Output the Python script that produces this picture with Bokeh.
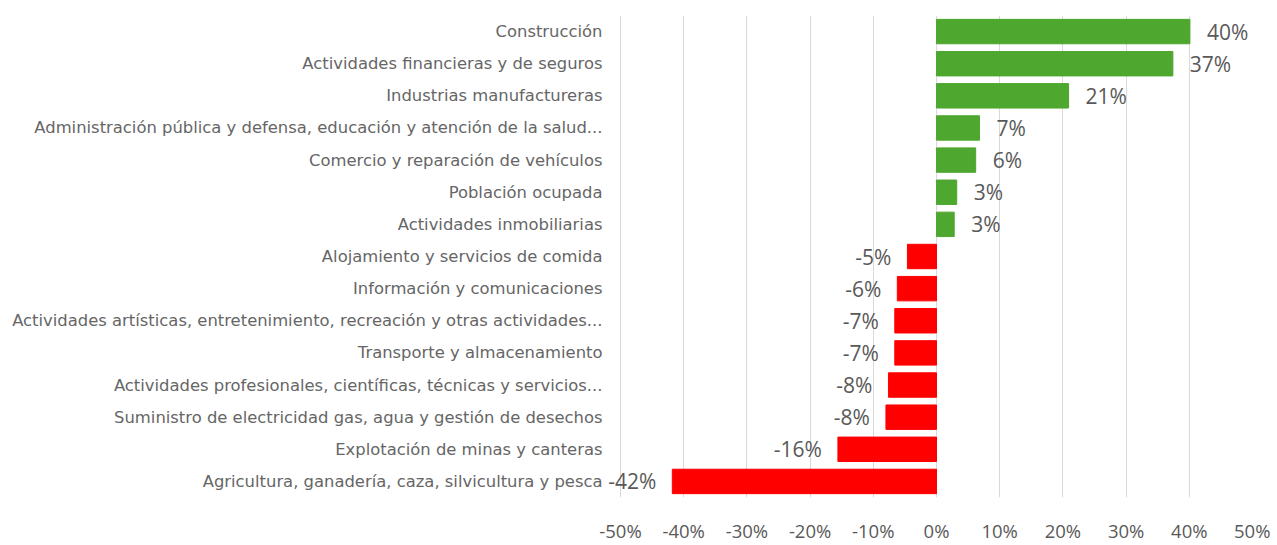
from bokeh.plotting import figure
from bokeh.models import ColumnDataSource, LabelSet, Range1d, FactorRange, FixedTicker, PrintfTickFormatter
from bokeh.core.properties import value
from bokeh.embed import file_html
from bokeh.resources import INLINE

categories = [
    "Construcción",
    "Actividades financieras y de seguros",
    "Industrias manufactureras",
    "Administración pública y defensa, educación y atención de la salud...",
    "Comercio y reparación de vehículos",
    "Población ocupada",
    "Actividades inmobiliarias",
    "Alojamiento y servicios de comida",
    "Información y comunicaciones",
    "Actividades artísticas, entretenimiento, recreación y otras actividades...",
    "Transporte y almacenamiento",
    "Actividades profesionales, científicas, técnicas y servicios...",
    "Suministro de electricidad gas, agua y gestión de desechos",
    "Explotación de minas y canteras",
    "Agricultura, ganadería, caza, silvicultura y pesca",
]
values = [40.1, 37.4, 20.9, 6.8, 6.2, 3.2, 2.8, -4.6, -6.2, -6.6, -6.6, -7.6, -8.0, -15.6, -41.8]
tick_values = [-50, -40, -30, -20, -10, 0, 10, 20, 30, 40, 50]

GREEN = "#4EA72E"
RED = "#FF0000"
TEXT = "#595959"
CAT_TEXT = "#666666"
FONT = value("Open Sans")
CAT_FONT = value("DejaVu Sans")

# layout: the -50% gridline sits 620px from the left edge, +50% at 1252px
W, H = 1270, 545
LEFT_PX, RIGHT_PX = 620, 1252
px_per_unit = (RIGHT_PX - LEFT_PX) / (tick_values[-1] - tick_values[0])
x_start = tick_values[0] - LEFT_PX / px_per_unit

colors = [GREEN if v >= 0 else RED for v in values]
labels = [f"{int(round(v))}%" for v in values]

src = ColumnDataSource(dict(cat=categories, val=values, color=colors))
pos = ColumnDataSource(dict(cat=[c for c, v in zip(categories, values) if v >= 0],
                            val=[v for v in values if v >= 0],
                            lab=[l for l, v in zip(labels, values) if v >= 0]))
neg = ColumnDataSource(dict(cat=[c for c, v in zip(categories, values) if v < 0],
                            val=[v for v in values if v < 0],
                            lab=[l for l, v in zip(labels, values) if v < 0]))
cats = ColumnDataSource(dict(cat=categories, x=[tick_values[0]] * len(categories)))

p = figure(width=W, height=H,
           y_range=FactorRange(*reversed(categories)),
           x_range=Range1d(x_start, tick_values[-1]),
           output_backend="svg", toolbar_location=None,
           min_border_left=0, min_border_right=18, min_border_top=15, min_border_bottom=46)

p.hbar(y="cat", left=0, right="val", height=0.76, color="color", source=src)

p.add_layout(LabelSet(x="val", y="cat", text="lab", source=pos, x_offset=17,
                      text_align="left", text_baseline="middle",
                      text_font_size="21px", text_color=TEXT, text_font=FONT))
p.add_layout(LabelSet(x="val", y="cat", text="lab", source=neg, x_offset=-16,
                      text_align="right", text_baseline="middle",
                      text_font_size="21px", text_color=TEXT, text_font=FONT))
p.add_layout(LabelSet(x="x", y="cat", text="cat", source=cats, x_offset=-18,
                      text_align="right", text_baseline="middle",
                      text_font_size="16.4px", text_color=CAT_TEXT, text_font=CAT_FONT))

p.yaxis.visible = False
p.ygrid.visible = False
p.xaxis.ticker = FixedTicker(ticks=tick_values)
p.xgrid.ticker = FixedTicker(ticks=tick_values)
p.xgrid.grid_line_color = "#D9D9D9"
p.xaxis.formatter = PrintfTickFormatter(format="%d%%")
p.xaxis.axis_line_color = None
p.xaxis.major_tick_line_color = None
p.xaxis.minor_tick_line_color = None
p.xaxis.major_tick_out = 0
p.xaxis.major_tick_in = 0
p.xaxis.major_label_standoff = 20
p.xaxis.major_label_text_font_size = "18.5px"
p.xaxis.major_label_text_color = TEXT
p.xaxis.major_label_text_font = "Open Sans"
p.outline_line_color = None

open("out.html", "w").write(file_html(p, INLINE))
